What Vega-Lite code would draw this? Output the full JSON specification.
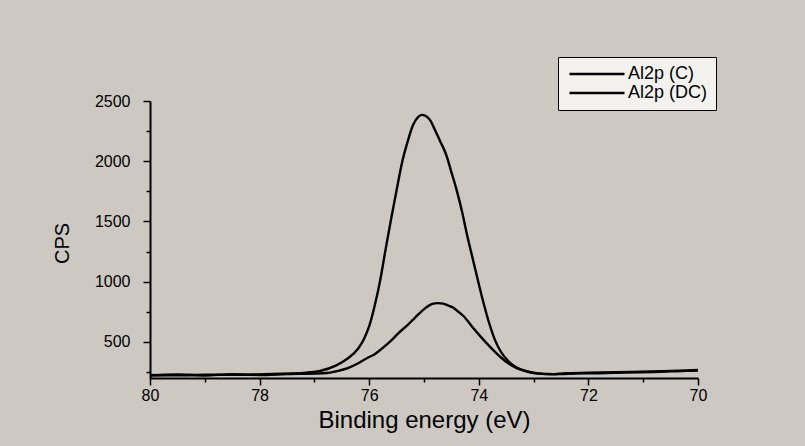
{
  "$schema": "https://vega.github.io/schema/vega-lite/v6.json",
  "width": 548,
  "height": 277,
  "autosize": {"type": "none"},
  "padding": {"left": 150, "top": 101, "right": 107, "bottom": 68},
  "background": "#cdc9c2",
  "config": {
    "view": {"stroke": null},
    "font": "Liberation Sans",
    "axis": {"domainColor": "black", "domainWidth": 2, "tickColor": "black", "tickWidth": 1.5, "labelColor": "black", "titleColor": "black", "grid": false, "labelFont": "Liberation Sans", "titleFont": "Liberation Sans", "titleFontWeight": "normal"}
  },
  "data": {
    "values": [
      {"energy": 80.0, "cps": 225, "series": "Al2p (C)"},
      {"energy": 79.5, "cps": 222, "series": "Al2p (C)"},
      {"energy": 79.0, "cps": 228, "series": "Al2p (C)"},
      {"energy": 78.5, "cps": 226, "series": "Al2p (C)"},
      {"energy": 78.0, "cps": 230, "series": "Al2p (C)"},
      {"energy": 77.6, "cps": 235, "series": "Al2p (C)"},
      {"energy": 77.2, "cps": 242, "series": "Al2p (C)"},
      {"energy": 76.9, "cps": 258, "series": "Al2p (C)"},
      {"energy": 76.6, "cps": 305, "series": "Al2p (C)"},
      {"energy": 76.4, "cps": 360, "series": "Al2p (C)"},
      {"energy": 76.2, "cps": 445, "series": "Al2p (C)"},
      {"energy": 76.1, "cps": 520, "series": "Al2p (C)"},
      {"energy": 76.0, "cps": 630, "series": "Al2p (C)"},
      {"energy": 75.9, "cps": 800, "series": "Al2p (C)"},
      {"energy": 75.8, "cps": 1010, "series": "Al2p (C)"},
      {"energy": 75.7, "cps": 1270, "series": "Al2p (C)"},
      {"energy": 75.6, "cps": 1520, "series": "Al2p (C)"},
      {"energy": 75.5, "cps": 1760, "series": "Al2p (C)"},
      {"energy": 75.4, "cps": 1990, "series": "Al2p (C)"},
      {"energy": 75.3, "cps": 2160, "series": "Al2p (C)"},
      {"energy": 75.2, "cps": 2300, "series": "Al2p (C)"},
      {"energy": 75.1, "cps": 2370, "series": "Al2p (C)"},
      {"energy": 75.03, "cps": 2385, "series": "Al2p (C)"},
      {"energy": 74.95, "cps": 2370, "series": "Al2p (C)"},
      {"energy": 74.88, "cps": 2335, "series": "Al2p (C)"},
      {"energy": 74.8, "cps": 2260, "series": "Al2p (C)"},
      {"energy": 74.71, "cps": 2170, "series": "Al2p (C)"},
      {"energy": 74.6, "cps": 2060, "series": "Al2p (C)"},
      {"energy": 74.5, "cps": 1910, "series": "Al2p (C)"},
      {"energy": 74.41, "cps": 1770, "series": "Al2p (C)"},
      {"energy": 74.3, "cps": 1570, "series": "Al2p (C)"},
      {"energy": 74.22, "cps": 1400, "series": "Al2p (C)"},
      {"energy": 74.1, "cps": 1170, "series": "Al2p (C)"},
      {"energy": 74.0, "cps": 980, "series": "Al2p (C)"},
      {"energy": 73.9, "cps": 800, "series": "Al2p (C)"},
      {"energy": 73.8, "cps": 640, "series": "Al2p (C)"},
      {"energy": 73.7, "cps": 510, "series": "Al2p (C)"},
      {"energy": 73.6, "cps": 420, "series": "Al2p (C)"},
      {"energy": 73.45, "cps": 335, "series": "Al2p (C)"},
      {"energy": 73.3, "cps": 285, "series": "Al2p (C)"},
      {"energy": 73.1, "cps": 252, "series": "Al2p (C)"},
      {"energy": 72.9, "cps": 236, "series": "Al2p (C)"},
      {"energy": 72.6, "cps": 232, "series": "Al2p (C)"},
      {"energy": 72.2, "cps": 238, "series": "Al2p (C)"},
      {"energy": 71.8, "cps": 240, "series": "Al2p (C)"},
      {"energy": 71.3, "cps": 246, "series": "Al2p (C)"},
      {"energy": 70.8, "cps": 250, "series": "Al2p (C)"},
      {"energy": 70.4, "cps": 256, "series": "Al2p (C)"},
      {"energy": 70.0, "cps": 262, "series": "Al2p (C)"},
      {"energy": 80.0, "cps": 220, "series": "Al2p (DC)"},
      {"energy": 79.5, "cps": 229, "series": "Al2p (DC)"},
      {"energy": 79.0, "cps": 221, "series": "Al2p (DC)"},
      {"energy": 78.5, "cps": 231, "series": "Al2p (DC)"},
      {"energy": 78.0, "cps": 225, "series": "Al2p (DC)"},
      {"energy": 77.5, "cps": 233, "series": "Al2p (DC)"},
      {"energy": 77.0, "cps": 237, "series": "Al2p (DC)"},
      {"energy": 76.77, "cps": 241, "series": "Al2p (DC)"},
      {"energy": 76.6, "cps": 256, "series": "Al2p (DC)"},
      {"energy": 76.39, "cps": 282, "series": "Al2p (DC)"},
      {"energy": 76.2, "cps": 322, "series": "Al2p (DC)"},
      {"energy": 76.02, "cps": 370, "series": "Al2p (DC)"},
      {"energy": 75.9, "cps": 398, "series": "Al2p (DC)"},
      {"energy": 75.78, "cps": 440, "series": "Al2p (DC)"},
      {"energy": 75.6, "cps": 510, "series": "Al2p (DC)"},
      {"energy": 75.46, "cps": 575, "series": "Al2p (DC)"},
      {"energy": 75.3, "cps": 640, "series": "Al2p (DC)"},
      {"energy": 75.21, "cps": 680, "series": "Al2p (DC)"},
      {"energy": 75.1, "cps": 730, "series": "Al2p (DC)"},
      {"energy": 74.97, "cps": 782, "series": "Al2p (DC)"},
      {"energy": 74.85, "cps": 815, "series": "Al2p (DC)"},
      {"energy": 74.75, "cps": 822, "series": "Al2p (DC)"},
      {"energy": 74.65, "cps": 818, "series": "Al2p (DC)"},
      {"energy": 74.55, "cps": 800, "series": "Al2p (DC)"},
      {"energy": 74.47, "cps": 785, "series": "Al2p (DC)"},
      {"energy": 74.38, "cps": 752, "series": "Al2p (DC)"},
      {"energy": 74.28, "cps": 715, "series": "Al2p (DC)"},
      {"energy": 74.18, "cps": 660, "series": "Al2p (DC)"},
      {"energy": 74.09, "cps": 608, "series": "Al2p (DC)"},
      {"energy": 73.95, "cps": 535, "series": "Al2p (DC)"},
      {"energy": 73.85, "cps": 485, "series": "Al2p (DC)"},
      {"energy": 73.7, "cps": 415, "series": "Al2p (DC)"},
      {"energy": 73.59, "cps": 368, "series": "Al2p (DC)"},
      {"energy": 73.45, "cps": 318, "series": "Al2p (DC)"},
      {"energy": 73.29, "cps": 278, "series": "Al2p (DC)"},
      {"energy": 73.1, "cps": 252, "series": "Al2p (DC)"},
      {"energy": 72.92, "cps": 238, "series": "Al2p (DC)"},
      {"energy": 72.7, "cps": 231, "series": "Al2p (DC)"},
      {"energy": 72.4, "cps": 239, "series": "Al2p (DC)"},
      {"energy": 72.0, "cps": 243, "series": "Al2p (DC)"},
      {"energy": 71.5, "cps": 249, "series": "Al2p (DC)"},
      {"energy": 71.0, "cps": 253, "series": "Al2p (DC)"},
      {"energy": 70.5, "cps": 259, "series": "Al2p (DC)"},
      {"energy": 70.0, "cps": 266, "series": "Al2p (DC)"}
    ]
  },
  "mark": {"type": "line", "strokeWidth": 2.4, "interpolate": "monotone", "clip": true},
  "encoding": {
    "x": {
      "field": "energy",
      "type": "quantitative",
      "scale": {"domain": [70, 80], "reverse": true, "nice": false, "zero": false},
      "axis": {
        "title": "Binding energy (eV)",
        "values": [80, 79, 78, 77, 76, 75, 74, 73, 72, 71, 70],
        "labelExpr": "datum.value % 2 === 0 ? datum.label : ''",
        "tickSize": {"condition": {"test": "datum.value % 2 === 0", "value": 7}, "value": 4},
        "labelFontSize": 16,
        "labelPadding": 2,
        "labelFlush": false,
        "titleFontSize": 24,
        "titleX": 274,
        "titleY": 42,
        "titleBaseline": "middle",
        "titleAlign": "center"
      }
    },
    "y": {
      "field": "cps",
      "type": "quantitative",
      "scale": {"domain": [200, 2500], "nice": false, "zero": false},
      "axis": {
        "title": "CPS",
        "values": [250, 500, 750, 1000, 1250, 1500, 1750, 2000, 2250, 2500],
        "labelExpr": "datum.value % 500 === 0 ? datum.label : ''",
        "format": "d",
        "tickSize": {"condition": {"test": "datum.value % 500 === 0", "value": 7}, "value": 4},
        "labelFontSize": 16,
        "labelPadding": 13,
        "titleFontSize": 20,
        "titleX": -88,
        "titleY": 142,
        "titleAngle": -90,
        "titleBaseline": "middle",
        "titleAlign": "center"
      }
    },
    "color": {
      "field": "series",
      "type": "nominal",
      "scale": {"domain": ["Al2p (C)", "Al2p (DC)"], "range": ["black", "black"]},
      "legend": {
        "title": null,
        "orient": "none",
        "legendX": 408,
        "legendY": -44,
        "symbolType": "M-5,0H5",
        "symbolSize": 121,
        "symbolOffset": 22,
        "symbolStrokeWidth": 2.4,
        "labelFontSize": 18,
        "labelFont": "Liberation Sans",
        "labelColor": "black",
        "labelOffset": 22,
        "rowPadding": 1,
        "padding": 8,
        "strokeColor": "black",
        "fillColor": "#f3f2ef"
      }
    }
  }
}
